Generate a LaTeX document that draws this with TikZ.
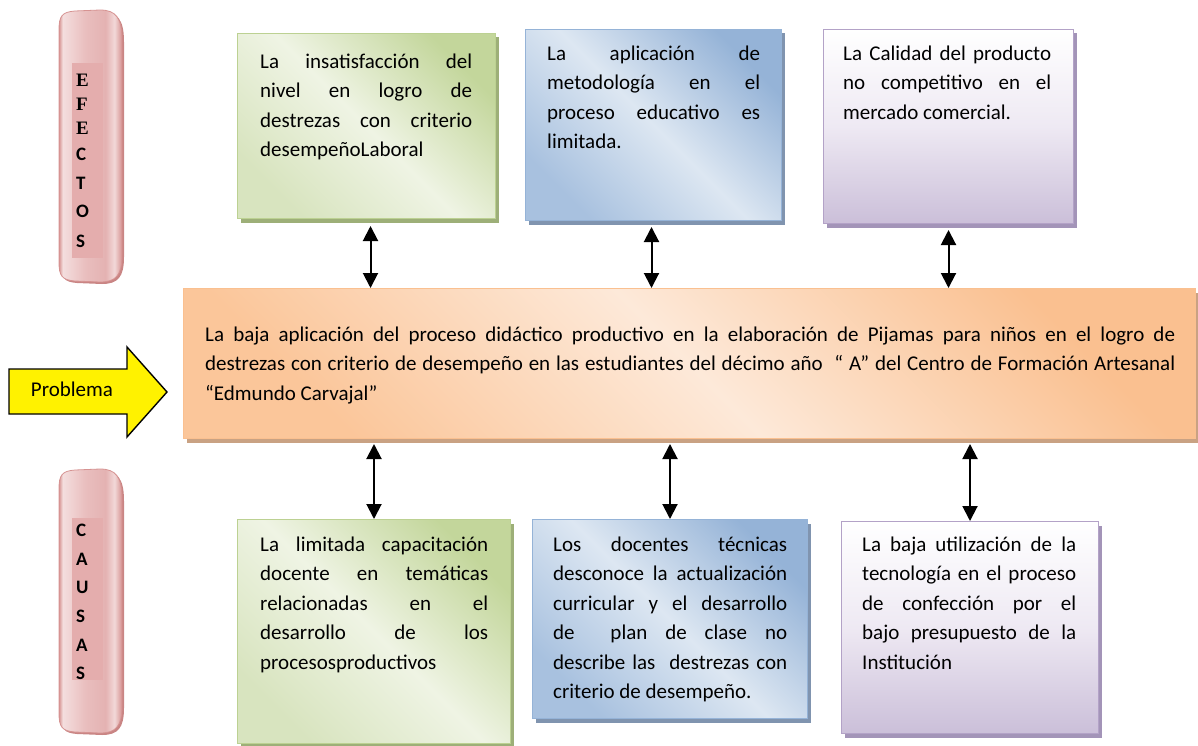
\documentclass[tikz,border=0pt]{standalone}
\usepackage{fontspec}
\setmainfont{Carlito}
\newfontfamily\serifbf{Liberation Serif}
\usetikzlibrary{arrows.meta,shadows}
\definecolor{grA}{HTML}{C3D69B}
\definecolor{grB}{HTML}{EFF4E4}
\definecolor{grC}{HTML}{D8E4BF}
\definecolor{grD}{HTML}{BCD192}
\definecolor{grS}{HTML}{9DAF78}
\definecolor{blA}{HTML}{95B3D7}
\definecolor{blB}{HTML}{DDE7F2}
\definecolor{blC}{HTML}{A8C1DF}
\definecolor{blS}{HTML}{8094AF}
\definecolor{puB}{HTML}{EEE9F3}
\definecolor{puC}{HTML}{CBBFD9}
\definecolor{puD}{HTML}{B3A2C7}
\definecolor{puS}{HTML}{A394B8}
\definecolor{orA}{HTML}{FAC090}
\definecolor{orB}{HTML}{FDE9D9}
\definecolor{orC}{HTML}{FBC69A}
\definecolor{orS}{HTML}{C9A283}
\definecolor{pkE}{HTML}{D69392}
\definecolor{pkL}{HTML}{F4DEDE}
\definecolor{pkM}{HTML}{E9BEBE}
\definecolor{pkN}{HTML}{E4B2B2}
\definecolor{pkH}{HTML}{F2D8D8}
\definecolor{pkIn}{HTML}{E4ADAD}
\definecolor{pkS}{HTML}{C98584}
\pgfdeclarehorizontalshading{pillshade}{100bp}{color(0bp)=(pkE); color(25bp)=(pkE); color(28bp)=(pkL); color(46bp)=(pkM); color(62bp)=(pkN); color(69bp)=(pkH); color(75bp)=(pkE); color(100bp)=(pkE)}
\newcommand\fl{\noindent\rule{0pt}{21pt}}
\tikzset{
  card/.style={anchor=north west, inner sep=0pt, line width=1pt},
  greencard/.style={card, draw=grD, top color=grA, bottom color=grC, middle color=grB, shading angle=-45,
    general shadow={fill=grS, shadow xshift=3pt, shadow yshift=-4pt}},
  bluecard/.style={card, draw=blA, top color=blA, bottom color=blC, middle color=blB, shading angle=-45,
    general shadow={fill=blS, shadow xshift=3pt, shadow yshift=-4pt}},
  purplecard/.style={card, draw=puD, top color=white, bottom color=puC, middle color=puB,
    general shadow={fill=puS, shadow xshift=3pt, shadow yshift=-4pt}},
  orangecard/.style={card, draw=orA, top color=orA, bottom color=orC, middle color=orB, shading angle=-45,
    general shadow={fill=orS, shadow xshift=3pt, shadow yshift=-4pt}},
  txt/.style={anchor=north west, inner sep=0pt, text width=#1, align=justify,
    font=\fontsize{21}{29.5}\selectfont},
  dbl/.style={{Triangle[width=15pt,length=15pt]}-{Triangle[width=15pt,length=15pt]}, line width=2pt},
  pill/.style={shade, shading=pillshade, draw=pkE, line width=0.8pt,
    general shadow={fill=pkS, shadow xshift=2pt, shadow yshift=-2pt}},
  letters/.style={anchor=north west, inner sep=0pt, align=left, font=\fontsize{19}{#1}\selectfont\bfseries}
}
\begin{document}
\begin{tikzpicture}[x=1pt, y=-1pt]
\useasboundingbox (0,0) rectangle (1198,746);

% side pills
\path[pill] (59,30) .. controls (59,16) and (62,12) .. (75,11) -- (100,10) .. controls (116,10) and (122,18) .. (122,40)
  -- (122,255) .. controls (122,275) and (116,282) .. (100,282) -- (75,281) .. controls (62,280) and (59,276) .. (59,262) -- cycle;
\fill[pkIn] (72,63) rectangle (103,258);
\node[letters=24pt] (efectos) at (76,71.5) {\rule{0pt}{15pt}{\serifbf E}\\{\serifbf F}\\{\serifbf E}\\[2pt]C\\[5pt]T\\[4pt]O\\[6pt]S};

\path[pill] (59,489) .. controls (59,475) and (62,471) .. (75,470) -- (100,469) .. controls (116,469) and (122,477) .. (122,499)
  -- (122,706) .. controls (122,726) and (116,733) .. (100,733) -- (75,732) .. controls (62,731) and (59,727) .. (59,713) -- cycle;
\fill[pkIn] (72,518) rectangle (103,680);
\node[letters=28.6pt] (causas) at (76,521.5) {\rule{0pt}{15pt}C\\A\\U\\S\\A\\S};

% problem arrow
\path[draw=black, line width=1.4pt, fill=yellow] (9,369) -- (127,369) -- (127,347) -- (167,392) -- (127,437) -- (127,414) -- (9,414) -- cycle;
\node[font=\fontsize{21}{25}\selectfont, inner sep=0pt] (prob) at (72,389) {Problema};

% effect boxes
\node[greencard, minimum width=258pt, minimum height=185pt] (e1) at (237,33) {};
\node[txt=212pt] (e1t) at ([shift={(23,14)}]e1.north west) {\fl La insatisfacción del\linebreak nivel en logro de\linebreak destrezas con criterio\linebreak desempeñoLaboral};

\node[bluecard, minimum width=256pt, minimum height=191pt] (e2) at (525,29) {};
\node[txt=213pt] (e2t) at ([shift={(22,10)}]e2.north west) {\fl La aplicación de\linebreak metodología en el\linebreak proceso educativo es\linebreak limitada.};

\node[purplecard, minimum width=250pt, minimum height=194pt] (e3) at (823,29) {};
\node[txt=208pt] (e3t) at ([shift={(20,10)}]e3.north west) {\fl La Calidad del producto\linebreak no competitivo en el\linebreak mercado comercial.};

% problem box
\node[orangecard, minimum width=1012pt, minimum height=150pt] (main) at (183,288) {};
\node[txt=970pt] (maint) at ([shift={(22,32)}]main.north west) {\fl La baja aplicación del proceso didáctico productivo en la elaboración de Pijamas para niños en el logro de\linebreak destrezas con criterio de desempeño en las estudiantes del décimo año\ \ “ A” del Centro de Formación Artesanal\linebreak “Edmundo Carvajal”};

% cause boxes
\node[greencard, minimum width=273pt, minimum height=224pt] (c1) at (237,519) {};
\node[txt=228pt] (c1t) at ([shift={(23,11)}]c1.north west) {\fl La limitada capacitación\linebreak docente en temáticas\linebreak relacionadas en el\linebreak desarrollo de los\linebreak procesosproductivos};

\node[bluecard, minimum width=275pt, minimum height=199pt] (c2) at (532,519) {};
\node[txt=234pt] (c2t) at ([shift={(21,11)}]c2.north west) {\fl Los docentes técnicas\linebreak desconoce la actualización\linebreak curricular y el desarrollo\linebreak de\ \ plan de clase no\linebreak describe las\ \ destrezas con\linebreak criterio de desempeño.};

\node[purplecard, minimum width=257pt, minimum height=212pt] (c3) at (841,521) {};
\node[txt=214pt] (c3t) at ([shift={(21,9)}]c3.north west) {\fl La baja utilización de la\linebreak tecnología en el proceso\linebreak de confección por el\linebreak bajo presupuesto de la\linebreak Institución};

% connectors
\draw[dbl] ([xshift=4pt,yshift=-7pt]e1.south) -- ([xshift=4pt]e1.south |- main.north);
\draw[dbl] ([xshift=-2pt,yshift=-6pt]e2.south) -- ([xshift=-2pt]e2.south |- main.north);
\draw[dbl] ([yshift=-6pt]e3.south) -- (e3.south |- main.north);
\draw[dbl] ([yshift=-5pt]main.south -| c1.north) -- (c1.north);
\draw[dbl] ([yshift=-5pt]main.south -| c2.north) -- (c2.north);
\draw[dbl] ([yshift=-5pt]main.south -| c3.north) -- (c3.north);
\end{tikzpicture}
\end{document}
